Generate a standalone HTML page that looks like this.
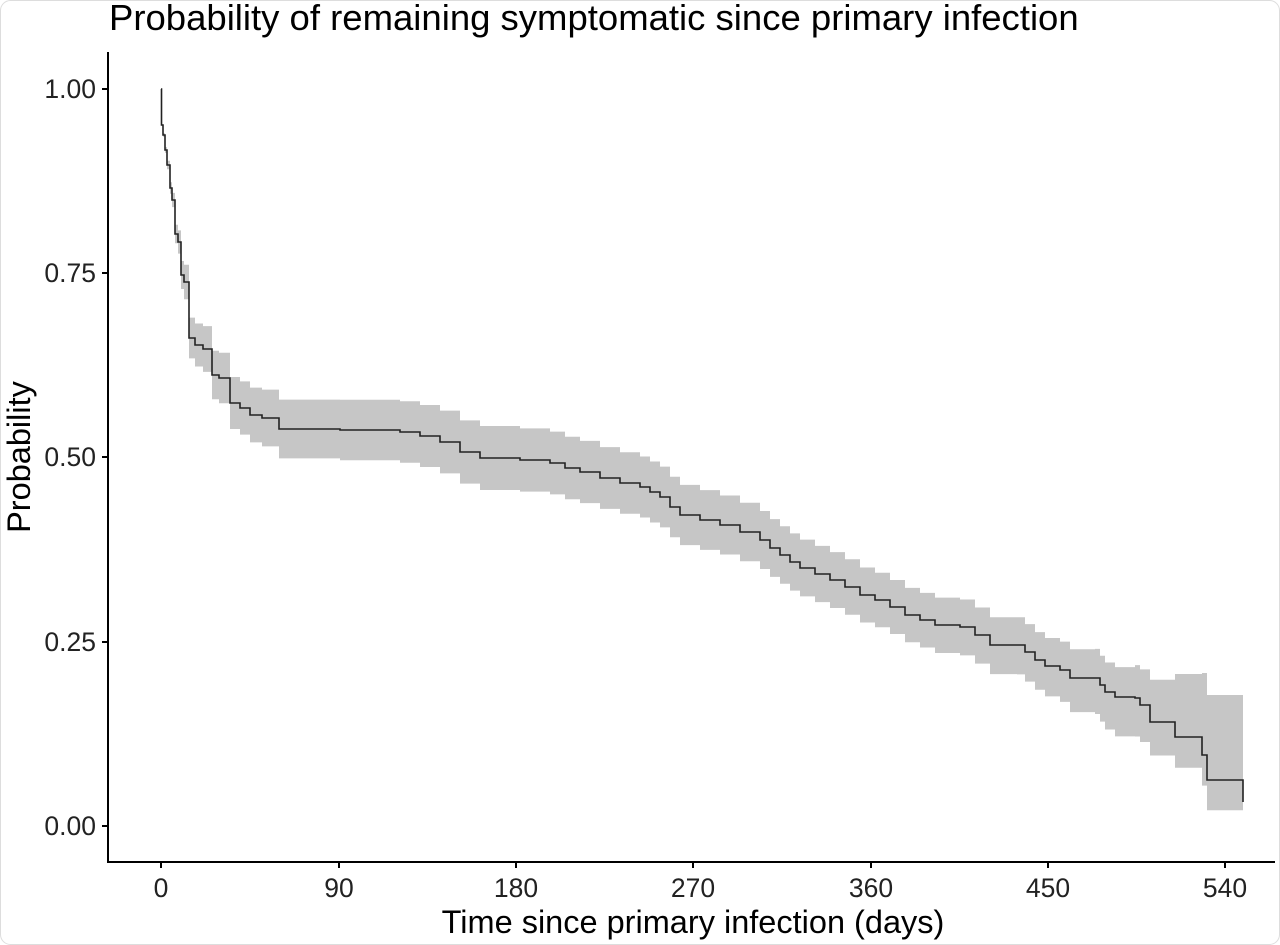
<!DOCTYPE html>
<html><head><meta charset="utf-8"><style>
html,body{margin:0;padding:0;background:#fff;}
svg{display:block;font-family:"Liberation Sans",Arial,sans-serif;}
</style></head><body>
<svg id="s" width="1280" height="945" viewBox="0 0 1280 945">
<rect x="0.5" y="0.5" width="1279" height="944" rx="10" fill="#fff" stroke="#dddddd"/>
<text x="109" y="30" font-size="36.5" fill="#000">Probability of remaining symptomatic since primary infection</text>
<path id="band" fill="#c6c6c6" stroke="none"/>
<path id="line" fill="none" stroke="#222" stroke-width="1.6"/>
<line x1="108" y1="52" x2="108" y2="863" stroke="#000" stroke-width="2"/>
<line x1="107" y1="862" x2="1275" y2="862" stroke="#000" stroke-width="2"/>
<g stroke="#000" stroke-width="2">
<line x1="102" y1="89" x2="108" y2="89"/><line x1="102" y1="273" x2="108" y2="273"/>
<line x1="102" y1="457" x2="108" y2="457"/><line x1="102" y1="642" x2="108" y2="642"/>
<line x1="102" y1="826" x2="108" y2="826"/>
<line x1="161" y1="862" x2="161" y2="868"/><line x1="339" y1="862" x2="339" y2="868"/>
<line x1="516" y1="862" x2="516" y2="868"/><line x1="693" y1="862" x2="693" y2="868"/>
<line x1="871" y1="862" x2="871" y2="868"/><line x1="1048" y1="862" x2="1048" y2="868"/>
<line x1="1225" y1="862" x2="1225" y2="868"/>
</g>
<g font-size="26.5" fill="#222" text-anchor="end">
<text x="96" y="98">1.00</text><text x="96" y="282">0.75</text><text x="96" y="466">0.50</text>
<text x="96" y="651">0.25</text><text x="96" y="835">0.00</text>
</g>
<g font-size="26.5" fill="#222" text-anchor="middle">
<text x="161" y="897">0</text><text x="339" y="897">90</text><text x="516" y="897">180</text>
<text x="693" y="897">270</text><text x="871" y="897">360</text><text x="1048" y="897">450</text>
<text x="1225" y="897">540</text>
</g>
<text x="693" y="933" font-size="32.5" fill="#000" text-anchor="middle">Time since primary infection (days)</text>
<text transform="translate(30,457) rotate(-90)" font-size="32.5" fill="#000" text-anchor="middle">Probability</text>
</svg>
<script>
var k=[[161,89],[161.5,125],[163,135],[165,150],[167,165],[170,188],[172,200],[175,234],[178,242],[181,275],[184,282],[189,338],[195,345],[203,349],[212,375],[219,378],[230,403],[240,408],[250,415],[262,418],[279,429],[340,430],[400,432],[420,436],[440,442],[460,452],[480,458],[520,460],[550,463],[565,468],[580,472],[600,478],[620,483],[640,487],[650,492],[660,497],[670,507],[680,515],[700,520],[720,525],[740,532],[760,540],[770,548],[780,555],[790,562],[800,568],[815,574],[830,580],[845,587],[860,595],[875,600],[890,607],[905,615],[920,620],[935,625],[960,627],[975,635],[990,645],[1017,645],[1025,652],[1035,660],[1045,666],[1060,670],[1070,678],[1095,678],[1100,685],[1105,692],[1115,697],[1135,698],[1140,705],[1150,722],[1175,737],[1202,755],[1207,780],[1243,780]];
var upT=[[161,0],[175,8],[190,20],[220,25],[280,29],[500,32],[700,30],[900,27],[1050,28],[1130,30],[1175,47],[1207,85],[1243,85]];
var loT=[[161,0],[175,8],[190,20],[220,25],[280,29],[500,32],[700,30],[900,27],[1050,30],[1130,40],[1175,31],[1243,30]];
function f(t,x){for(var i=1;i<t.length;i++){if(x<=t[i][0]){var a=t[i-1],b=t[i];return a[1]+(b[1]-a[1])*(x-a[0])/(b[0]-a[0]);}}return t[t.length-1][1];}
var d="M"+k[0][0]+","+k[0][1];
for(var i=1;i<k.length;i++){d+="H"+k[i][0]+"V"+k[i][1];}
d+="V802";
document.getElementById("line").setAttribute("d",d);
var up=[],lo=[];
for(var i=0;i<k.length-1;i++){var x0=k[i][0],x1=k[i+1][0],y=k[i][1];var m=(x0+x1)/2;
up.push([x0,y-f(upT,m)],[x1,y-f(upT,m)]);lo.push([x0,y+f(loT,m)],[x1,y+f(loT,m)]);}
var b="M"+up.map(function(p){return p[0]+","+p[1]}).join("L");
lo.reverse();b+="L"+lo.map(function(p){return p[0]+","+p[1]}).join("L")+"Z";
document.getElementById("band").setAttribute("d",b);
</script>
</body></html>
